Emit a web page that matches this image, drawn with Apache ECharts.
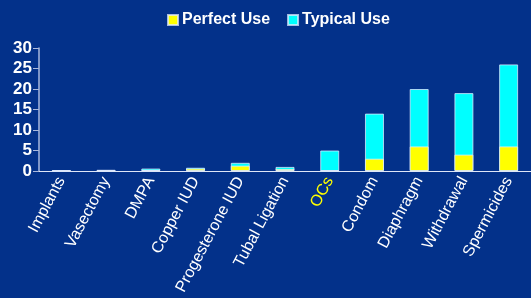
<!DOCTYPE html>
<html>
<head>
<meta charset="utf-8">
<script src="https://cdn.jsdelivr.net/npm/echarts@6/dist/echarts.min.js"></script>
<style>
  html, body { margin: 0; padding: 0; background: #03318a; }
  #chart { width: 531px; height: 298px; }
</style>
</head>
<body>
<div id="chart"></div>
<script>
const methods = ['Implants', 'Vasectomy', 'DMPA', 'Copper IUD', 'Progesterone IUD', 'Tubal Ligation', 'OCs', 'Condom', 'Diaphragm', 'Withdrawal', 'Spermicides']
const perfectUse = [0.05, 0.1, 0.2, 0.6, 1.3, 0.5, 0.1, 3, 6, 4, 6]
const typicalUse = [0.2, 0.3, 0.6, 0.8, 2.0, 1.0, 5, 14, 20, 19, 26]
const yTicks = [0, 5, 10, 15, 20, 25, 30]

const chart = echarts.init(document.getElementById('chart'))

const barBorder = { borderColor: 'rgba(225, 235, 255, 0.75)', borderWidth: 1 }

chart.setOption({
  backgroundColor: '#03318a',
  animation: false,
  textStyle: { fontFamily: 'Liberation Sans, Arial, sans-serif' },
  legend: {
    data: ['Perfect Use', 'Typical Use'],
    icon: 'rect',
    top: 7,
    left: 162,
    itemWidth: 10,
    itemHeight: 10,
    itemGap: 17,
    textStyle: { color: '#fff', fontWeight: 'bold', fontSize: 16, padding: [0, 0, 0, -1] }
  },
  grid: { left: 39, right: -1, top: 48, bottom: 127 },
  xAxis: {
    type: 'category',
    data: methods,
    axisLine: { lineStyle: { color: '#dfe6f7', width: 1 } },
    axisTick: { length: 5, lineStyle: { color: '#dfe6f7' } },
    axisLabel: {
      rotate: 62,
      margin: 7,
      fontSize: 16,
      color: function (v) { return v === 'OCs' ? '#ffff00' : '#ffffff' }
    }
  },
  yAxis: {
    type: 'value',
    min: 0,
    max: 30,
    interval: 5,
    splitLine: { show: false },
    axisLine: { show: true, lineStyle: { color: '#aab8dc', width: 1.5 } },
    axisTick: { show: true, length: 6, lineStyle: { color: '#aab8dc' } },
    axisLabel: {
      color: '#fff',
      fontWeight: 'bold',
      fontSize: 17,
      margin: 7,
      formatter: function (v) { return yTicks.includes(v) ? String(v) : '' }
    }
  },
  series: [
    {
      name: 'Typical Use',
      type: 'bar',
      data: typicalUse,
      barWidth: 19,
      barGap: '-100%',
      itemStyle: Object.assign({ color: '#00ffff' }, barBorder)
    },
    {
      name: 'Perfect Use',
      type: 'bar',
      data: perfectUse,
      barWidth: 19,
      z: 3,
      itemStyle: Object.assign({ color: '#ffff00' }, barBorder)
    }
  ]
})
</script>
</body>
</html>
